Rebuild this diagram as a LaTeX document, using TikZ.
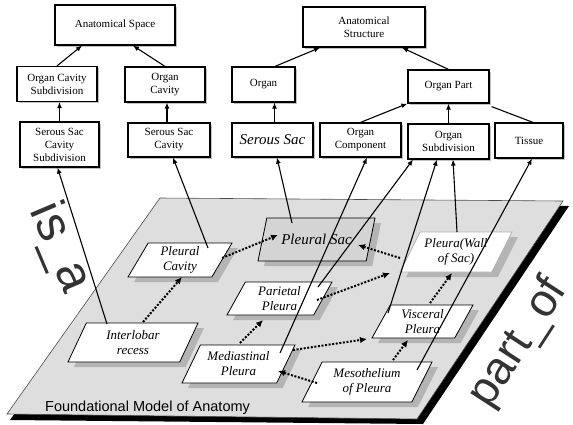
\documentclass[tikz,border=0pt]{standalone}
\usepackage{fontspec}
\setmainfont{Liberation Serif}
\setsansfont{Liberation Sans}
\usetikzlibrary{shapes.geometric,arrows.meta,shadows}
\begin{document}
\begin{tikzpicture}[x=1pt,y=-1pt,
  topbox/.style={draw, line width=1.2pt, fill=white, inner sep=1pt, align=center,
    font=\fontsize{11}{13}\selectfont,
    drop shadow={shadow xshift=1.5pt, shadow yshift=-1.5pt, fill=black!30, opacity=0.8}},
  plbox/.style={trapezium, trapezium left angle=55, trapezium right angle=125,
    trapezium stretches body, draw, line width=0.8pt, fill=white, inner sep=1pt,
    align=center, font=\itshape\fontsize{13}{15}\selectfont,
    drop shadow={shadow xshift=6pt, shadow yshift=-5pt, fill=black!40, opacity=0.6}},
  isa/.style={line width=1.1pt, -{Latex[length=6pt,width=5pt]}},
  plainline/.style={line width=1.1pt},
  partof/.style={line width=2pt, dash pattern=on 2pt off 1.6pt, -{Latex[length=7pt,width=6.5pt]}},
  bigsans/.style={font=\sffamily\fontsize{#1}{#1}\selectfont, text=black!80, inner sep=0pt},
]
\useasboundingbox (0,0) rectangle (573,424);

% ---- plane ----
\fill[black] (166,203) -- (569,206) -- (423,424) -- (10,420) -- cycle;
\path[fill=black!13, draw=black!70, line width=0.6pt] (160,198) -- (563,201) -- (417,419) -- (7,414) -- cycle;
\node[font=\sffamily\fontsize{14.5}{16}\selectfont, anchor=base west, inner sep=0pt] (fma) at (45,411) {Foundational Model of Anatomy};

% ---- big labels ----
\node[bigsans=50, rotate=-67] (isalbl) at (60,248) {is\_a};
\node[bigsans=46, rotate=57] (partoflbl) at (519,343) {part\_of};

% ---- top boxes ----
\node[topbox, minimum width=120pt, minimum height=40pt] (as) at (115,25) {Anatomical Space};
\node[topbox, minimum width=80pt, minimum height=35pt] (ocs) at (57,84) {Organ Cavity\\Subdivision};
\node[topbox, minimum width=80pt, minimum height=35pt] (oc) at (165,84.5) {Organ\\Cavity};
\node[topbox, minimum width=79pt, minimum height=45pt] (sscs) at (59.5,144.5) {Serous Sac\\Cavity\\Subdivision};
\node[topbox, minimum width=82pt, minimum height=34pt] (ssc) at (169,140) {Serous Sac\\Cavity};
\node[topbox, minimum width=122pt, minimum height=40pt] (ast) at (364,27) {Anatomical\\Structure};
\node[topbox, minimum width=63pt, minimum height=35pt] (organ) at (263.5,84.5) {Organ};
\node[topbox, minimum width=81pt, minimum height=34pt, font=\itshape\fontsize{15}{17}\selectfont] (ssac) at (272.5,140) {Serous Sac};
\node[topbox, minimum width=81pt, minimum height=33pt] (op) at (448.5,86.5) {Organ Part};
\node[topbox, minimum width=81pt, minimum height=34pt] (ocomp) at (360.5,140) {Organ\\Component};
\node[topbox, minimum width=81pt, minimum height=35pt] (osub) at (448.5,141.5) {Organ\\Subdivision};
\node[topbox, minimum width=68pt, minimum height=35pt] (tis) at (529,140.5) {Tissue};

% ---- plane boxes ----
\node[plbox, minimum width=130pt, minimum height=39pt] (ir) at (133,342.5) {Interlobar\\recess};
\node[plbox, minimum width=104pt, minimum height=34pt] (pc) at (180,260) {Pleural\\Cavity};
\node[plbox, minimum width=117pt, minimum height=43pt, fill=black!17, font=\itshape\fontsize{15}{17}\selectfont] (psac) at (316.5,239.5) {Pleural Sac};
\node[plbox, minimum width=105pt, minimum height=33pt] (par) at (279.5,298.5) {Parietal\\Pleura};
\node[plbox, minimum width=113pt, minimum height=38pt] (med) at (238.5,364) {Mediastinal\\Pleura};
\node[plbox, minimum width=112pt, minimum height=40pt, draw=black!30] (wall) at (456,252) {Pleura(Wall\\of Sac)};
\node[plbox, minimum width=101pt, minimum height=33pt] (visc) at (422.5,321.5) {Visceral\\Pleura};
\node[plbox, minimum width=130pt, minimum height=40pt] (meso) at (367,382) {Mesothelium\\of Pleura};

% ---- is_a among top boxes ----
\draw[isa] (ocs.north) -- ([xshift=-33pt]as.south);
\draw[isa] (oc.north) -- ([xshift=18pt]as.south);
\draw[isa] (sscs.north) -- (sscs.north |- ocs.south);
\draw[isa] ([xshift=-2pt]ssc.north) -- ([xshift=-2pt]ssc.north |- oc.south);
\draw[isa] ([xshift=2pt]ssac.north) -- ([xshift=2pt]ssac.north |- organ.south);
\draw[isa] ([xshift=11.5pt]organ.north) -- ([xshift=-44pt]ast.south);
\draw[isa] (op.north) -- ([xshift=38pt]ast.south);
\draw[isa] (ocomp.north) -- (op.south west);
\draw[isa] (osub.north) -- (op.south);
\draw[plainline] ([xshift=4pt]tis.north) -- ([shift={(2pt,-3pt)}]op.south east);

% ---- is_a from plane to top ----
\draw[isa] ([shift={(-26,-18.5)}]ir.center) -- ([xshift=-2pt]sscs.south);
\draw[isa] ([shift={(28,-12)}]pc.center) -- ([xshift=4pt]ssc.south);
\draw[isa] ([shift={(-24.5,-16.5)}]psac.center) -- ([xshift=4.5pt]ssac.south);
\draw[isa] ([shift={(41.5,-11)}]med.center) -- ([xshift=6.5pt]ocomp.south);
\draw[isa] ([shift={(38.5,-11.5)}]par.center) -- ([xshift=-35.5pt]osub.south);
\draw[isa] ([shift={(-34.5,-8.5)}]visc.center) -- ([xshift=-11.5pt]osub.south);
\draw[isa] ([shift={(1,-20)}]wall.center) -- ([xshift=4.5pt]osub.south);
\draw[isa] ([shift={(50,-12)}]meso.center) -- ([xshift=3pt]tis.south);

% ---- part_of ----
\draw[partof] ([shift={(10,-20.5)}]ir.center) -- ([shift={(2,17)}]pc.center);
\draw[partof] ([shift={(42,-2)}]pc.center) -- ([shift={(-38.5,-4.5)}]psac.center);
\draw[partof] ([shift={(1.5,-21)}]med.center) -- ([shift={(-16.5,21.5)}]par.center);
\draw[partof] ([shift={(37.5,1.5)}]par.center) -- ([shift={(-66,21)}]wall.center);
\draw[partof] ([shift={(-56,6)}]wall.center) -- ([shift={(41.5,5.5)}]psac.center);
\draw[partof] ([shift={(54.5,-14)}]med.center) -- ([shift={(-55.5,17.5)}]visc.center);
\draw[partof] ([shift={(-50,1)}]meso.center) -- ([shift={(39.5,7)}]med.center);
\draw[partof] ([shift={(26,-22)}]meso.center) -- ([shift={(-14.5,18.5)}]visc.center);
\draw[partof] ([shift={(7.5,-18.5)}]visc.center) -- ([shift={(-4,21)}]wall.center);
\end{tikzpicture}
\end{document}
